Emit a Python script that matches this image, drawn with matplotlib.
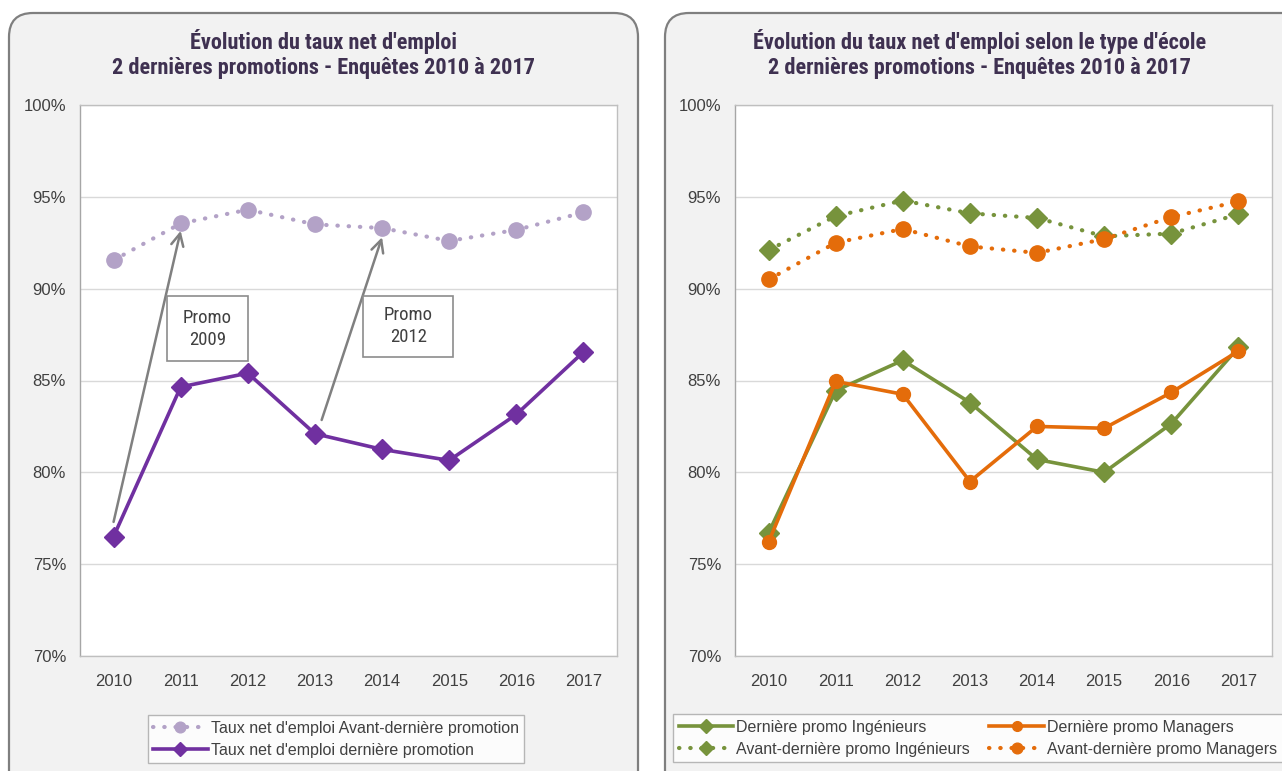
import matplotlib
matplotlib.use("Agg")
import matplotlib.pyplot as plt
from matplotlib.patches import FancyBboxPatch, Rectangle

plt.rcParams['font.family'] = ['Liberation Sans', 'DejaVu Sans']
NARROW = ['Roboto Condensed', 'Liberation Sans', 'DejaVu Sans']

# ---------------------------------------------------------------
# Data
# ---------------------------------------------------------------
years = ["2010", "2011", "2012", "2013", "2014", "2015", "2016", "2017"]

# left chart
avant_derniere = [91.55, 93.55, 94.3, 93.5, 93.3, 92.6, 93.2, 94.15]
derniere = [76.5, 84.65, 85.4, 82.1, 81.25, 80.65, 83.15, 86.55]

# right chart
derniere_ing = [76.7, 84.45, 86.1, 83.8, 80.7, 80.0, 82.65, 86.8]
derniere_man = [76.2, 84.95, 84.25, 79.5, 82.5, 82.4, 84.35, 86.6]
avant_ing = [92.1, 93.95, 94.8, 94.1, 93.85, 92.85, 93.0, 94.05]
avant_man = [90.5, 92.5, 93.25, 92.3, 91.95, 92.7, 93.9, 94.75]

yticks = [70, 75, 80, 85, 90, 95, 100]

W, H = 1282, 771
C_LAV = "#b3a2c7"
C_PURP = "#7030a0"
C_GREEN = "#77933c"
C_ORANGE = "#e46c0a"
C_TITLE = "#3f3151"
C_TXT = "#404040"

fig = plt.figure(figsize=(W / 100, H / 100), dpi=100)
fig.patch.set_facecolor("white")

# background panels drawn in pixel space
bg = fig.add_axes([0, 0, 1, 1])
bg.set_xlim(0, W)
bg.set_ylim(H, 0)
bg.axis("off")
for x0, x1 in [(9, 638), (665, 1330)]:
    bg.add_patch(FancyBboxPatch((x0, 13), x1 - x0, 820,
                                boxstyle="round,pad=0,rounding_size=24",
                                facecolor="#f2f2f2", edgecolor="#7f7f7f", lw=1.6))

title_kw = dict(ha="center", va="center", fontsize=16, fontweight="bold",
                color=C_TITLE, fontfamily=NARROW)
bg.text(323, 42, "Évolution du taux net d'emploi", **title_kw)
bg.text(323, 68, "2 dernières promotions - Enquêtes 2010 à 2017", **title_kw)
bg.text(980, 42, "Évolution du taux net d'emploi selon le type d'école", **title_kw)
bg.text(980, 68, "2 dernières promotions - Enquêtes 2010 à 2017", **title_kw)


def make_ax(x0, x1, y0=105, y1=656):
    ax = fig.add_axes([x0 / W, (H - y1) / H, (x1 - x0) / W, (y1 - y0) / H])
    ax.set_facecolor("white")
    ax.set_ylim(70, 100)
    ax.set_xlim(-0.5, 7.5)
    ax.set_yticks(yticks)
    ax.set_yticklabels([f"{v}%" for v in yticks])
    ax.set_xticks(range(len(years)))
    ax.set_xticklabels(years)
    ax.tick_params(axis="both", length=0, labelsize=12, labelcolor=C_TXT)
    ax.tick_params(axis="y", pad=10)
    ax.tick_params(axis="x", pad=13)
    ax.grid(axis="y", color="#d9d9d9", lw=1)
    ax.set_axisbelow(True)
    for s in ax.spines.values():
        s.set_color("#bfbfbf")
        s.set_linewidth(1)
    ax.spines["left"].set_color("#a6a6a6")
    return ax


dotted = (0, (0.1, 2.6))
xs = range(len(years))
leg_kw = dict(frameon=True, fancybox=False, edgecolor="#a6a6a6", handlelength=3.4,
              handletextpad=0.2, labelspacing=0.45, borderpad=0.35, markerscale=0.7,
              prop={"size": 11.5}, bbox_transform=fig.transFigure, loc="upper center")

# ---------------------------------------------------------------
# Left chart
# ---------------------------------------------------------------
ax1 = make_ax(80, 617)
ax1.plot(xs, avant_derniere, color=C_LAV, lw=3, linestyle=dotted, dash_capstyle="round",
         marker="o", ms=11, label="Taux net d'emploi Avant-dernière promotion")
ax1.plot(xs, derniere, color=C_PURP, lw=2.6, marker="D", ms=10,
         label="Taux net d'emploi dernière promotion")

arrow = dict(arrowstyle="->", color="#808080", lw=1.8, mutation_scale=22,
             shrinkA=0, shrinkB=0)
ax1.annotate("", xy=(1.0, 93.15), xytext=(0.0, 77.3), arrowprops=arrow)
ax1.annotate("", xy=(4.0, 92.8), xytext=(3.1, 82.85), arrowprops=arrow)

# "Promo" call-out boxes (x0, x1, y0, y1 in category / % units)
for (bx0, bx1, by0, by1), label in [((0.8, 2.0, 86.05, 89.6), "Promo\n2009"),
                                     ((3.72, 5.06, 86.3, 89.6), "Promo\n2012")]:
    ax1.add_patch(Rectangle((bx0, by0), bx1 - bx0, by1 - by0, facecolor="white",
                            edgecolor="#8c8c8c", lw=1.2, zorder=3))
    ax1.text((bx0 + bx1) / 2, (by0 + by1) / 2, label, ha="center", va="center",
             fontsize=13.5, color=C_TXT, linespacing=1.3, fontfamily=NARROW, zorder=4)

leg1 = ax1.legend(bbox_to_anchor=(336 / W, (H - 707) / H), **leg_kw)
leg1.get_frame().set_linewidth(1)
for t in leg1.get_texts():
    t.set_color(C_TXT)

# ---------------------------------------------------------------
# Right chart
# ---------------------------------------------------------------
ax2 = make_ax(735, 1272)
l_ai, = ax2.plot(xs, avant_ing, color=C_GREEN, lw=3, linestyle=dotted, dash_capstyle="round",
                 marker="D", ms=10, label="Avant-dernière promo Ingénieurs")
l_am, = ax2.plot(xs, avant_man, color=C_ORANGE, lw=3, linestyle=dotted, dash_capstyle="round",
                 marker="o", ms=11, label="Avant-dernière promo Managers")
l_di, = ax2.plot(xs, derniere_ing, color=C_GREEN, lw=2.6, marker="D", ms=10,
                 label="Dernière promo Ingénieurs")
l_dm, = ax2.plot(xs, derniere_man, color=C_ORANGE, lw=2.6, marker="o", ms=10,
                 label="Dernière promo Managers")

leg2 = ax2.legend(handles=[l_di, l_ai, l_dm, l_am], ncol=2, columnspacing=1.2,
                  bbox_to_anchor=(978 / W, (H - 706) / H), **leg_kw)
leg2.get_frame().set_linewidth(1)
for t in leg2.get_texts():
    t.set_color(C_TXT)

fig.savefig("out.png", dpi=100, facecolor=fig.get_facecolor())
